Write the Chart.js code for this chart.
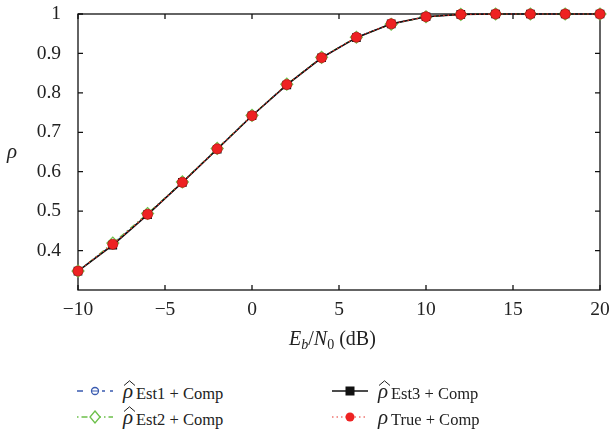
<!DOCTYPE html>
<html>
<head>
<meta charset="utf-8">
<script src="https://cdn.jsdelivr.net/npm/chart.js@4"></script>
<style>
  body { margin: 0; background: #fff; }
  #wrap { position: relative; width: 610px; height: 431px; font-family: "Liberation Serif", "DejaVu Serif", serif; color: #222; }
  #chart { position: absolute; left: 0; top: 0; }
  .lbl { position: absolute; white-space: nowrap; font-size: 20px; line-height: 1; }
  .lbl sub { font-size: 14px; vertical-align: -4px; }
  .leg { position: absolute; display: flex; align-items: center; font-size: 16.5px; white-space: nowrap; height: 20px; }
  .leg svg.sample { margin-right: 10px; }
  .leg .rho { position: relative; font-style: italic; font-size: 21px; width: 13px; display: inline-block; line-height: 1; }
  .leg .hat { position: absolute; left: 0px; top: -1px; }
  .leg .rest { position: relative; top: 3px; }
</style>
</head>
<body>
<div id="wrap">
  <canvas id="chart" width="610" height="370"></canvas>
  <div class="lbl" id="ytitle" style="left:7px; top:141px; font-style:italic; font-size:21px;">ρ</div>
  <div class="lbl" id="xtitle" style="left:289px; top:328px;"><i>E</i><sub><i>b</i></sub>/<i>N</i><sub>0</sub> (dB)</div>
  <div id="legend"></div>
</div>
<script>
// E_b/N_0 in dB
const snr = [-10, -8, -6, -4, -2, 0, 2, 4, 6, 8, 10, 12, 14, 16, 18, 20];
const est1 = [0.348, 0.416, 0.492, 0.573, 0.658, 0.742, 0.821, 0.889, 0.941, 0.975, 0.993, 0.999, 1, 1, 1, 1];
const est2 = [0.348, 0.419, 0.494, 0.574, 0.659, 0.743, 0.822, 0.890, 0.941, 0.974, 0.993, 0.999, 1, 1, 1, 1];
const est3 = [0.348, 0.414, 0.491, 0.573, 0.657, 0.742, 0.820, 0.889, 0.940, 0.975, 0.993, 0.999, 1, 1, 1, 1];
const rhoTrue = [0.348, 0.416, 0.492, 0.573, 0.658, 0.742, 0.821, 0.889, 0.941, 0.975, 0.993, 0.999, 1, 1, 1, 1];
const xTicks = [-10, -5, 0, 5, 10, 15, 20];
const yTicks = [0.4, 0.5, 0.6, 0.7, 0.8, 0.9, 1];

const pts = vals => vals.map((v, i) => ({ x: snr[i], y: v }));

// box around plot + inward ticks on all sides
const frame = {
  id: 'frame',
  beforeDatasetsDraw(chart) {
    const { ctx, chartArea: a, scales: { x, y } } = chart;
    ctx.save();
    ctx.strokeStyle = '#111';
    ctx.lineWidth = 1.3;
    ctx.strokeRect(a.left, a.top, a.right - a.left, a.bottom - a.top);
    ctx.beginPath();
    xTicks.forEach(t => {
      const px = x.getPixelForValue(t);
      ctx.moveTo(px, a.bottom); ctx.lineTo(px, a.bottom - 5);
      ctx.moveTo(px, a.top); ctx.lineTo(px, a.top + 5);
    });
    yTicks.forEach(t => {
      const py = y.getPixelForValue(t);
      ctx.moveTo(a.left, py); ctx.lineTo(a.left + 5, py);
      ctx.moveTo(a.right, py); ctx.lineTo(a.right - 5, py);
    });
    ctx.stroke();
    ctx.restore();
  }
};

const tickFont = { family: '"Liberation Serif", "DejaVu Serif", serif', size: 19.5 };

new Chart(document.getElementById('chart'), {
  type: 'line',
  data: {
    datasets: [
      {
        label: 'ρ True + Comp', data: pts(rhoTrue), order: 0,
        borderColor: '#e8312a', borderWidth: 1.2, borderDash: [1.5, 3],
        pointStyle: 'circle', pointRadius: 5, pointBackgroundColor: '#ee2222', pointBorderColor: '#c01818', pointBorderWidth: 0.8
      },
      {
        label: 'ρ̂ Est3 + Comp', data: pts(est3), order: 1,
        borderColor: '#111', borderWidth: 1.6,
        pointStyle: 'rect', pointRadius: 5, pointBackgroundColor: '#111', pointBorderColor: '#111'
      },
      {
        label: 'ρ̂ Est2 + Comp', data: pts(est2), order: 2,
        borderColor: '#6cc04a', borderWidth: 1.2, borderDash: [6, 3, 1.5, 3],
        pointStyle: 'rectRot', pointRadius: 6, pointBackgroundColor: '#fff', pointBorderColor: '#6cc04a', pointBorderWidth: 1.2
      },
      {
        label: 'ρ̂ Est1 + Comp', data: pts(est1), order: 3,
        borderColor: '#3a5bb0', borderWidth: 1.2, borderDash: [6, 4],
        pointStyle: 'circle', pointRadius: 4, pointBackgroundColor: '#fff', pointBorderColor: '#3a5bb0', pointBorderWidth: 1.2
      }
    ]
  },
  options: {
    responsive: false,
    animation: false,
    clip: false,
    layout: { padding: { left: 0, top: 14, right: 10, bottom: 0 } },
    plugins: { legend: { display: false }, tooltip: { enabled: false } },
    elements: { line: { tension: 0 } },
    scales: {
      x: {
        type: 'linear', min: -10, max: 20,
        afterBuildTicks: s => { s.ticks = xTicks.map(v => ({ value: v })); },
        afterFit: s => { s.height = 80; s.paddingLeft = 0; s.paddingRight = 0; },
        grid: { display: false, drawTicks: false },
        border: { display: false },
        ticks: {
          font: tickFont, color: '#222', padding: 8, maxRotation: 0,
          callback: v => (v < 0 ? '\u2212' + Math.abs(v) : String(v))
        }
      },
      y: {
        type: 'linear', min: 0.3, max: 1,
        afterBuildTicks: s => { s.ticks = yTicks.map(v => ({ value: v })); },
        afterFit: s => { s.width = 78; s.paddingTop = 0; s.paddingBottom = 0; },
        grid: { display: false, drawTicks: false },
        border: { display: false },
        ticks: {
          font: tickFont, color: '#222', padding: 17,
          callback: v => (v === 1 ? '1' : v.toFixed(1))
        }
      }
    }
  },
  plugins: [frame]
});

// legend below the plot (HTML so the labels keep hats and subscripts)
const hatSvg = '<svg class="hat" width="13" height="6"><polyline points="1,5.5 6.5,0.8 12,5.5" fill="none" stroke="#222" stroke-width="1"/></svg>';
const legendItems = [
  { left: 77, top: 381, hat: true, name: 'Est1', svg: '<line x1="0" y1="7" x2="36" y2="7" stroke="#3a5bb0" stroke-width="1.3" stroke-dasharray="6 5"/><rect x="11" y="2" width="14" height="10" fill="#fff"/><circle cx="18" cy="7" r="3.5" fill="#fff" stroke="#3a5bb0" stroke-width="1.3"/><line x1="14.5" y1="7" x2="21.5" y2="7" stroke="#3a5bb0" stroke-width="1"/>' },
  { left: 77, top: 407, hat: true, name: 'Est2', svg: '<line x1="0" y1="7" x2="36" y2="7" stroke="#6cc04a" stroke-width="1.3" stroke-dasharray="1.5 3 6 3"/><polygon points="18,1 23,7 18,13 13,7" fill="#fff" stroke="#6cc04a" stroke-width="1.3"/>' },
  { left: 332, top: 381, hat: true, name: 'Est3', svg: '<line x1="0" y1="7" x2="36" y2="7" stroke="#111" stroke-width="1.6"/><rect x="13.5" y="2.5" width="9" height="9" fill="#111"/>' },
  { left: 332, top: 407, hat: false, name: 'True', svg: '<line x1="0" y1="7" x2="36" y2="7" stroke="#e8312a" stroke-width="1.2" stroke-dasharray="1.5 3"/><circle cx="18" cy="7" r="4.5" fill="#ee2222"/>' }
];
const legend = document.getElementById('legend');
legendItems.forEach(item => {
  const div = document.createElement('div');
  div.className = 'leg';
  div.style.left = item.left + 'px';
  div.style.top = item.top + 'px';
  div.innerHTML = '<svg class="sample" width="36" height="14">' + item.svg + '</svg>' +
    '<span class="rho">ρ' + (item.hat ? hatSvg : '') + '</span>' +
    '<span class="rest">' + item.name + ' + Comp</span>';
  legend.appendChild(div);
});
</script>
</body>
</html>
